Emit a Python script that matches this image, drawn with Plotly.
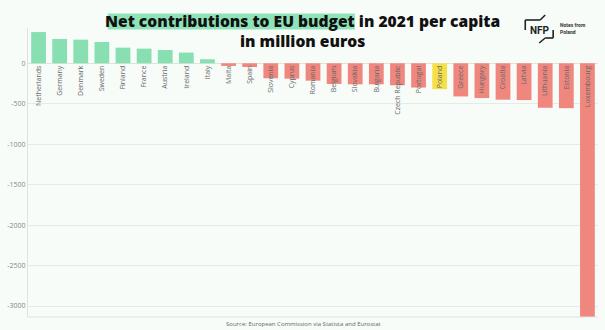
import plotly.graph_objects as go

countries = ["Netherlands", "Germany", "Denmark", "Sweden", "Finland", "France", "Austria",
             "Ireland", "Italy", "Malta", "Spain", "Slovenia", "Cyprus", "Romania", "Belgium",
             "Slovakia", "Bulgaria", "Czech Republic", "Portugal", "Poland", "Greece", "Hungary",
             "Croatia", "Latvia", "Lithuania", "Estonia", "Luxembourg"]
values = [386, 300, 292, 263, 193, 181, 164, 132, 50, -33, -46, -185, -190, -215, -256,
          -260, -260, -272, -300, -320, -410, -430, -450, -455, -550, -555, -3136]
ytick_vals = [0, -500, -1000, -1500, -2000, -2500, -3000]
ytick_text = ["0", "-500", "-1000", "-1500", "-2000", "-2500", "-3000"]

GREEN = "#88dfb1"
RED = "#f0877e"
YELLOW = "#f6e04a"
BG = "#f7fcf8"

colors = []
for c, v in zip(countries, values):
    if c == "Poland":
        colors.append(YELLOW)
    elif v >= 0:
        colors.append(GREEN)
    else:
        colors.append(RED)

W, H = 605, 330
L, R, T, B = 26, 7, 28, 13
PW, PH = W - L - R, H - T - B

def px(x):
    return (x - L) / PW

def py(y):
    return (H - B - y) / PH

ymin, ymax = -3136, 436

fig = go.Figure(go.Bar(x=countries, y=values, marker=dict(color=colors, line=dict(width=0))))

fig.update_layout(
    width=W, height=H,
    margin=dict(l=L, r=R, t=T, b=B),
    paper_bgcolor=BG, plot_bgcolor=BG,
    bargap=0.3,
    showlegend=False,
    font=dict(family="Open Sans, sans-serif"),
)
fig.update_yaxes(range=[ymin, ymax], tickvals=ytick_vals, ticktext=ytick_text,
                 showgrid=True, gridcolor="#e4eae6", gridwidth=1,
                 zeroline=True, zerolinecolor="#dde3df", zerolinewidth=1,
                 showline=True, linecolor="#dde3df", linewidth=1,
                 tickfont=dict(size=7, color="#888888"), ticks="")
fig.update_xaxes(anchor="free", position=(0 - ymin) / (ymax - ymin),
                 tickangle=-90, showline=False, showgrid=False, ticks="",
                 tickfont=dict(size=7, color="#666666"))

# bottom border line
fig.add_shape(type="line", xref="paper", yref="paper", x0=0, x1=1, y0=0, y1=0,
              line=dict(color="#dde3df", width=1))

# title highlight
fig.add_shape(type="rect", xref="paper", yref="paper",
              x0=px(106), x1=px(354), y0=py(29.5), y1=py(13.5),
              fillcolor="#8fe3b9", line=dict(width=0), layer="below")

title_font = dict(size=15.6, color="#111111", family="Open Sans", weight=800)
fig.add_annotation(text="Net contributions to EU budget in 2021 per capita",
                   xref="paper", yref="paper", x=px(301), y=py(21.5),
                   xanchor="center", yanchor="middle", showarrow=False,
                   font=title_font)
fig.add_annotation(text="in million euros",
                   xref="paper", yref="paper", x=px(301), y=py(41),
                   xanchor="center", yanchor="middle", showarrow=False,
                   font=title_font)

# source
fig.add_annotation(text="Source: European Commission via Statista and Eurostat",
                   xref="paper", yref="paper", x=px(302), y=py(324),
                   xanchor="center", yanchor="middle", showarrow=False,
                   font=dict(size=6, color="#666666"))

# logo
lc = dict(color="#222222", width=1.6)
for (x0, y0, x1, y1) in [(525, 20, 525, 30), (525, 20, 540, 20), (540, 20, 545, 15),
                         (553, 30, 553, 38), (553, 38, 545, 38), (545, 38, 539, 43)]:
    fig.add_shape(type="line", xref="paper", yref="paper",
                  x0=px(x0), y0=py(y0), x1=px(x1), y1=py(y1), line=lc)
fig.add_annotation(text="<b>NFP</b>", xref="paper", yref="paper", x=px(539.5), y=py(30),
                   xanchor="center", yanchor="middle", showarrow=False,
                   font=dict(size=10, color="#222222", family="Roboto"))
fig.add_annotation(text="<b>Notes from<br>Poland</b>", xref="paper", yref="paper",
                   x=px(558), y=py(28.5), xanchor="left", yanchor="middle", showarrow=False,
                   align="left", font=dict(size=5, color="#333333", family="Roboto"))

fig.write_html("out.html")
